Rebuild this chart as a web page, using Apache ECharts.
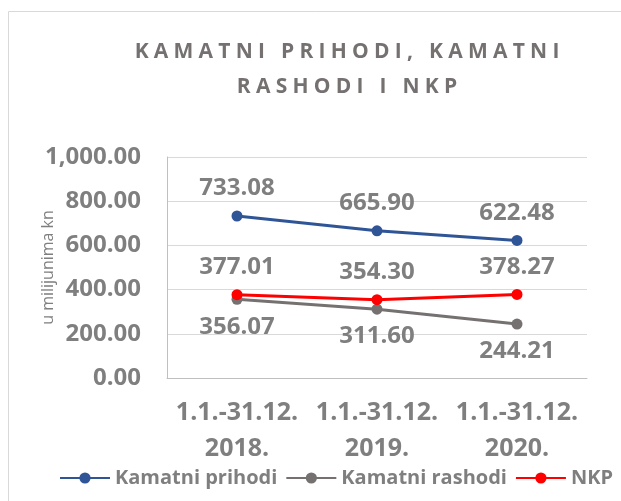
<!DOCTYPE html>
<html>
<head>
<meta charset="utf-8">
<script src="https://cdn.jsdelivr.net/npm/echarts@6/dist/echarts.min.js"></script>
<style>
  html, body { margin: 0; padding: 0; background: #fff; }
  #chart { width: 621px; height: 501px; }
</style>
</head>
<body>
<div id="chart"></div>
<script>
const categories = ['1.1.-31.12.\n2018.', '1.1.-31.12.\n2019.', '1.1.-31.12.\n2020.'];
const prihodi = [733.08, 665.90, 622.48];
const rashodi = [356.07, 311.60, 244.21];
const nkp = [377.01, 354.30, 378.27];

const gray = '#7f7f7f';
const font = 'Open Sans';

// spaced out title letters, like the original
function spaced(s) {
    return s.split('').join('\u2005');
}

const chart = echarts.init(document.getElementById('chart'));

function lineSeries(name, data, color, pos) {
    return {
        name: name,
        type: 'line',
        data: data,
        symbol: 'circle',
        symbolSize: 11,
        lineStyle: { color: color, width: 3 },
        itemStyle: { color: color },
        label: {
            show: true,
            position: pos,
            distance: 10,
            formatter: p => p.value.toFixed(2),
            color: gray,
            fontFamily: font,
            fontWeight: 'bold',
            fontSize: 24
        }
    };
}

chart.setOption({
    animation: false,
    title: {
        text: spaced('KAMATNI PRIHODI, KAMATNI') + '\n' + spaced('RASHODI I NKP'),
        left: 342,
        top: 30,
        textAlign: 'center',
        textStyle: {
            color: '#767171',
            fontFamily: font,
            fontWeight: 'bold',
            fontSize: 21,
            lineHeight: 35
        }
    },
    graphic: [{
        type: 'rect',
        shape: { x: 8.5, y: 11.5, width: 640, height: 500 },
        style: { fill: 'none', stroke: '#d9d9d9', lineWidth: 1 },
        silent: true
    }],
    legend: {
        left: 54,
        top: 463,
        width: 600,
        itemWidth: 50,
        itemHeight: 14,
        itemGap: 8,
        textStyle: { color: gray, fontFamily: font, fontSize: 20, fontWeight: 'bold' },
        data: ['Kamatni prihodi', 'Kamatni rashodi', 'NKP']
    },
    grid: { left: 167, right: 34, top: 157, bottom: 123 },
    xAxis: {
        type: 'category',
        data: categories,
        axisLine: { lineStyle: { color: '#bfbfbf' } },
        axisTick: { show: false },
        axisLabel: {
            interval: 0,
            color: gray,
            fontFamily: font,
            fontWeight: 'bold',
            fontSize: 25,
            lineHeight: 36,
            margin: 17
        }
    },
    yAxis: {
        type: 'value',
        min: 0,
        max: 1000,
        interval: 200,
        name: 'u milijunima kn',
        nameLocation: 'middle',
        nameGap: 111,
        nameMoveOverlap: false,
        nameTextStyle: { color: gray, fontFamily: font, fontSize: 16 },
        axisLine: { show: true, lineStyle: { color: '#bfbfbf' } },
        axisTick: { show: false },
        splitLine: { lineStyle: { color: '#d9d9d9' } },
        axisLabel: {
            color: gray,
            fontFamily: font,
            fontWeight: 'bold',
            fontSize: 24,
            margin: 26,
            formatter: v => v.toLocaleString('en-US', { minimumFractionDigits: 2, maximumFractionDigits: 2 })
        }
    },
    series: [
        lineSeries('Kamatni prihodi', prihodi, '#2f5597', 'top'),
        lineSeries('Kamatni rashodi', rashodi, '#767171', 'bottom'),
        lineSeries('NKP', nkp, '#ff0000', 'top')
    ]
});
</script>
</body>
</html>
